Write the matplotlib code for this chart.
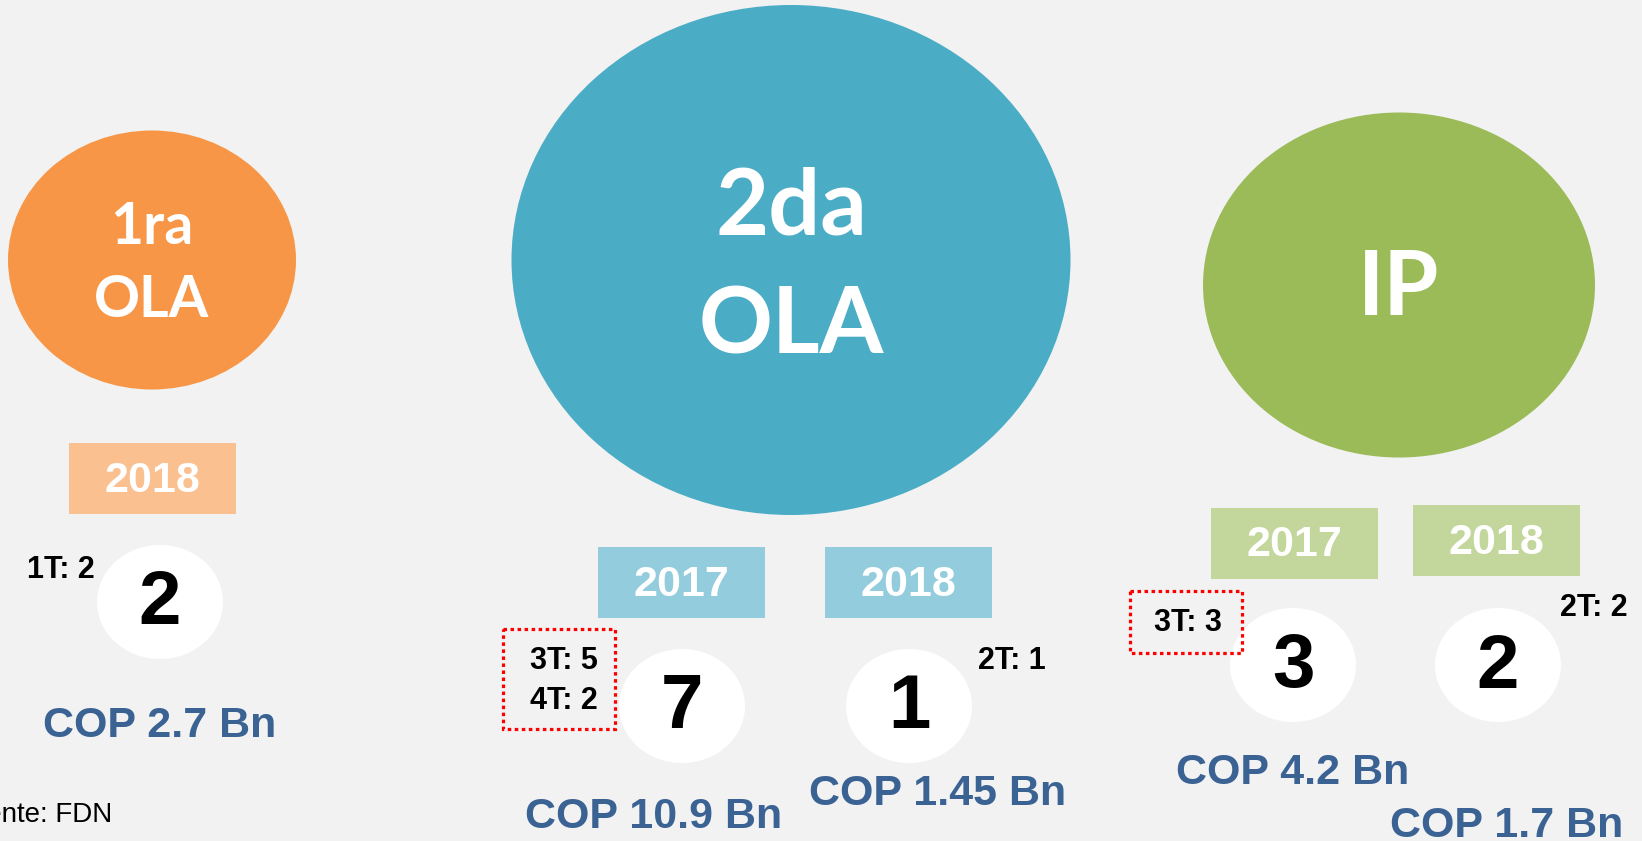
import matplotlib.pyplot as plt
from matplotlib.patches import Ellipse, Rectangle

# data
wave_labels = ['1ra\nOLA', '2da\nOLA', 'IP']
years = [['2018'], ['2017', '2018'], ['2017', '2018']]
counts = [[2], [7, 1], [3, 2]]
quarter_notes = [['1T: 2'], ['3T: 5\n4T: 2', '2T: 1'], ['3T: 3', '2T: 2']]
boxed_note = [[False], [True, False], [True, False]]
cop_values = [['2.7'], ['10.9', '1.45'], ['4.2', '1.7']]
source = 'Fuente: FDN'

# colours (Office theme)
wave_colors = ['#F79646', '#4BACC6', '#9BBB59']
year_colors = ['#FAC090', '#93CDDD', '#C3D69B']
cop_color = '#3A6293'
bg = '#F2F2F2'

# layout in pixels (figure is 1642 x 841)
wave_xy = [(152, 260), (791, 260), (1399, 285)]
wave_wh = [(288, 259), (559, 510), (392, 345)]
wave_fs = [41, 66, 64]
wave_ls = [1.48, 1.52, 1.0]
wave_dy = [4, 8, 4]
year_box = [[(69, 443)], [(598, 547), (825, 547)], [(1211, 508), (1413, 505)]]
year_box_wh = (167, 71)
count_xy = [[(160, 602)], [(682, 706), (909, 706)], [(1293, 665), (1498, 665)]]
note_xy = [[(61, 570)], [(564, 681), (1012, 661)], [(1188, 623), (1594, 608)]]
note_box = [[None], [(503, 629, 112, 100), None], [(1130, 591, 112, 62), None]]
cop_xy = [[(160, 726)], [(654, 817), (938, 794)], [(1293, 773), (1507, 826)]]

plt.rcParams['font.family'] = ['Liberation Sans', 'DejaVu Sans']

fig = plt.figure(figsize=(16.42, 8.41), dpi=100, facecolor=bg)
ax = fig.add_axes([0, 0, 1, 1])
ax.set_xlim(0, 1642)
ax.set_ylim(841, 0)
ax.axis('off')
ax.set_facecolor(bg)

for i in range(len(wave_labels)):
    (cx, cy), (w, h) = wave_xy[i], wave_wh[i]
    ax.add_patch(Ellipse((cx, cy), w, h, facecolor=wave_colors[i], edgecolor='none'))
    ax.text(cx, cy + wave_dy[i], wave_labels[i], ha='center', va='center', color='white',
            fontsize=wave_fs[i], fontweight='bold', family=['Lato', 'DejaVu Sans'],
            linespacing=wave_ls[i])

    for j in range(len(years[i])):
        bx, by = year_box[i][j]
        ax.add_patch(Rectangle((bx, by), year_box_wh[0], year_box_wh[1],
                               facecolor=year_colors[i], edgecolor='none'))
        ax.text(bx + year_box_wh[0] / 2, by + year_box_wh[1] / 2 + 2, years[i][j],
                ha='center', va='center', color='white', fontsize=31, fontweight='bold')

        px, py = count_xy[i][j]
        ax.add_patch(Ellipse((px, py), 126, 114, facecolor='white', edgecolor='none'))
        ax.text(px, py + 3, str(counts[i][j]), ha='center', va='center',
                color='black', fontsize=55, fontweight='bold')

        nx, ny = note_xy[i][j]
        ax.text(nx, ny, quarter_notes[i][j], ha='center', va='center', color='black',
                fontsize=22, fontweight='bold', linespacing=1.4)
        if boxed_note[i][j]:
            rx, ry, rw, rh = note_box[i][j]
            ax.add_patch(Rectangle((rx, ry), rw, rh, facecolor='none', edgecolor='red',
                                   lw=2.3, linestyle=(0, (1.1, 1.1))))

        tx, ty = cop_xy[i][j]
        ax.text(tx, ty, 'COP ' + cop_values[i][j] + ' Bn', ha='center', va='center',
                color=cop_color, fontsize=31, fontweight='bold')

ax.text(112, 815, source, ha='right', va='center', color='black', fontsize=20)

fig.savefig('out.png', dpi=100, facecolor=bg)
